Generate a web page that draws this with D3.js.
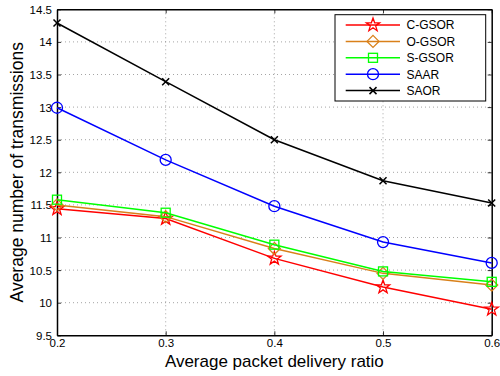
<!DOCTYPE html>
<html><head><meta charset="utf-8">
<script src="https://d3js.org/d3.v7.min.js"></script>
<style>body{margin:0;background:#fff}svg{display:block}text{font-family:"Liberation Sans",Arial,sans-serif}</style>
</head><body><svg id="c" width="500" height="376"></svg>
<script>
const xValues = [0.2, 0.3, 0.4, 0.5, 0.6];
const seriesNames = ["C-GSOR", "O-GSOR", "S-GSOR", "SAAR", "SAOR"];
const cGSOR = [11.44, 11.29, 10.68, 10.24, 9.90];
const oGSOR = [11.50, 11.32, 10.83, 10.45, 10.27];
const sGSOR = [11.58, 11.38, 10.89, 10.48, 10.32];
const saar  = [12.99, 12.19, 11.48, 10.93, 10.61];
const saor  = [14.29, 13.39, 12.50, 11.87, 11.53];
const xTicks = [0.2, 0.3, 0.4, 0.5, 0.6];
const yTicks = [9.5, 10, 10.5, 11, 11.5, 12, 12.5, 13, 13.5, 14, 14.5];
const xTitle = "Average packet delivery ratio";
const yTitle = "Average number of transmissions";

const colors = ["#ff0000", "#d9801a", "#00ff00", "#0000ff", "#000000"];
const markers = ["star", "diamond", "square", "circle", "x"];
const data = [cGSOR, oGSOR, sGSOR, saar, saor];

const L = 57, R = 491.7, T = 9.3, B = 335.3;
const x = d3.scaleLinear().domain([0.2, 0.6]).range([L, R]);
const y = d3.scaleLinear().domain([9.5, 14.5]).range([B, T]);
const svg = d3.select("#c");

// grid
const g = svg.append("g");
g.selectAll(".gx").data(xTicks.slice(1, -1)).enter().append("line")
  .attr("x1", d => x(d)).attr("x2", d => x(d)).attr("y1", T).attr("y2", B)
  .attr("stroke", "#666").attr("stroke-width", 0.6).attr("stroke-dasharray", "1,3");
g.selectAll(".gy").data(yTicks.slice(1, -1)).enter().append("line")
  .attr("y1", d => y(d)).attr("y2", d => y(d)).attr("x1", L).attr("x2", R)
  .attr("stroke", "#666").attr("stroke-width", 0.6).attr("stroke-dasharray", "1,3");

// axes
const ax = svg.append("g").attr("transform", `translate(0,${B})`)
  .call(d3.axisBottom(x).tickValues(xTicks).tickFormat(d3.format(".1f")).tickSizeInner(-4).tickSizeOuter(0).tickPadding(6));
const axT = svg.append("g").attr("transform", `translate(0,${T})`)
  .call(d3.axisTop(x).tickValues(xTicks).tickFormat("").tickSizeInner(-4).tickSizeOuter(0));
const ay = svg.append("g").attr("transform", `translate(${L},0)`)
  .call(d3.axisLeft(y).tickValues(yTicks).tickFormat(d3.format("~g")).tickSizeInner(-4).tickSizeOuter(0).tickPadding(5));
const ayR = svg.append("g").attr("transform", `translate(${R},0)`)
  .call(d3.axisRight(y).tickValues(yTicks).tickFormat("").tickSizeInner(-4).tickSizeOuter(0));
[ax, axT, ay, ayR].forEach(a => {
  a.select(".domain").attr("stroke", "#000").attr("stroke-width", 1.5);
  a.selectAll(".tick line").attr("stroke", "#000").attr("stroke-width", 0.8);
  a.selectAll("text").attr("font-size", 11.5).attr("fill", "#000")
   .style("font-family", '"Liberation Sans",Arial,sans-serif');
});
ax.selectAll("text").attr("dy", "0.5em");
ay.selectAll("text").attr("dy", "0.35em");

// markers
function drawMarker(sel, type, color, cx, cy) {
  if (type === "star") {
    const pts = [];
    for (let i = 0; i < 10; i++) {
      const r = i % 2 === 0 ? 7 : 2.8;
      const a = -Math.PI / 2 + i * Math.PI / 5;
      pts.push([cx + r * Math.cos(a), cy + r * Math.sin(a)]);
    }
    sel.append("polygon").attr("points", pts.map(p => p.join(",")).join(" "))
      .attr("fill", "none").attr("stroke", color).attr("stroke-width", 1.3);
  } else if (type === "diamond") {
    const r = 6;
    sel.append("polygon").attr("points", `${cx},${cy-r} ${cx+r},${cy} ${cx},${cy+r} ${cx-r},${cy}`)
      .attr("fill", "none").attr("stroke", color).attr("stroke-width", 1.3);
  } else if (type === "square") {
    sel.append("rect").attr("x", cx - 4.5).attr("y", cy - 4.5).attr("width", 9).attr("height", 9)
      .attr("fill", "none").attr("stroke", color).attr("stroke-width", 1.3);
  } else if (type === "circle") {
    sel.append("circle").attr("cx", cx).attr("cy", cy).attr("r", 5.5)
      .attr("fill", "none").attr("stroke", color).attr("stroke-width", 1.3);
  } else if (type === "x") {
    const r = 3.5;
    sel.append("path").attr("d", `M${cx-r},${cy-r}L${cx+r},${cy+r}M${cx-r},${cy+r}L${cx+r},${cy-r}`)
      .attr("stroke", color).attr("stroke-width", 1.5);
  }
}

const line = d3.line().x((d, i) => x(xValues[i])).y(d => y(d));
data.forEach((s, k) => {
  const gs = svg.append("g");
  gs.append("path").attr("d", line(s)).attr("fill", "none")
    .attr("stroke", colors[k]).attr("stroke-width", 1.5);
  s.forEach((v, i) => drawMarker(gs, markers[k], colors[k], x(xValues[i]), y(v)));
});

// legend
const lg = svg.append("g");
lg.append("rect").attr("x", 335).attr("y", 14.7).attr("width", 150.7).attr("height", 86.3)
  .attr("fill", "#fff").attr("stroke", "#000").attr("stroke-width", 1);
seriesNames.forEach((n, k) => {
  const yy = 25 + k * 16.4;
  lg.append("line").attr("x1", 345.7).attr("x2", 400).attr("y1", yy).attr("y2", yy)
    .attr("stroke", colors[k]).attr("stroke-width", 1.5);
  drawMarker(lg, markers[k], colors[k], 373, yy);
  lg.append("text").attr("x", 406.5).attr("y", yy).attr("dy", "0.36em")
    .attr("font-size", 12).text(n);
});

// titles
svg.append("text").attr("x", (L + R) / 2).attr("y", 367).attr("text-anchor", "middle")
  .attr("font-size", 17).text(xTitle);
svg.append("text").attr("transform", `translate(23,${(T + B) / 2}) rotate(-90)`)
  .attr("text-anchor", "middle").attr("font-size", 17.5).text(yTitle);
</script></body></html>
